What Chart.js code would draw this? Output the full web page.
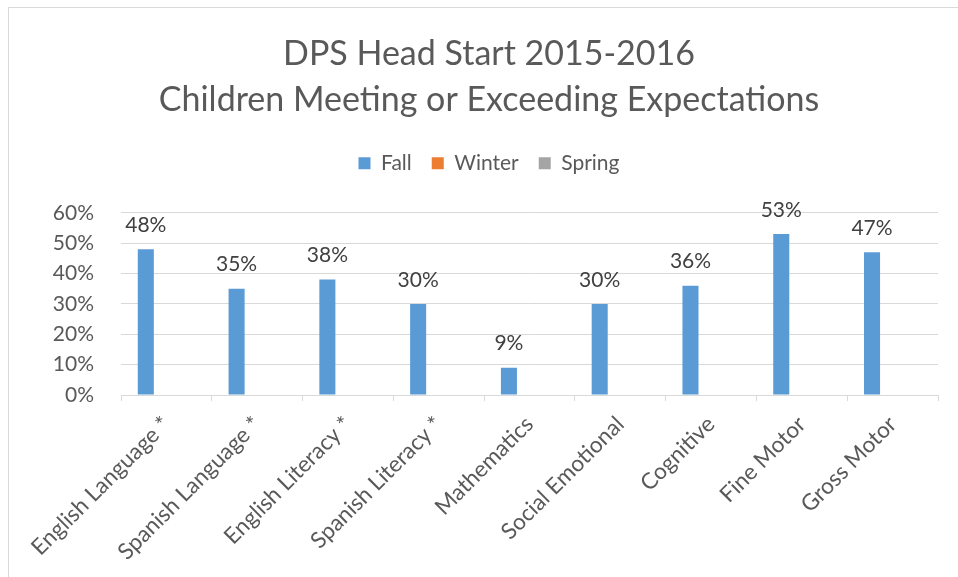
<!DOCTYPE html>
<html>
<head>
<meta charset="utf-8">
<script src="https://cdn.jsdelivr.net/npm/chart.js@4/dist/chart.umd.min.js"></script>
<style>
  html, body { margin: 0; padding: 0; background: #fff; }
  #wrap { position: relative; width: 958px; height: 577px; }
  #frame { position: absolute; left: 8px; top: 7px; width: 1000px; height: 700px; border: 1px solid #d9d9d9; box-sizing: border-box; }
  canvas { position: absolute; left: 0; top: 0; }
</style>
</head>
<body>
<div id="wrap">
  <div id="frame"></div>
  <canvas id="chart" width="958" height="577"></canvas>
</div>
<script>
const categories = ["English Language *", "Spanish Language *", "English Literacy *", "Spanish Literacy *",
  "Mathematics", "Social Emotional", "Cognitive", "Fine Motor", "Gross Motor"];
const fall = [0.48, 0.35, 0.38, 0.30, 0.09, 0.30, 0.36, 0.53, 0.47];
const winter = [null, null, null, null, null, null, null, null, null];
const spring = [null, null, null, null, null, null, null, null, null];

const FONT = "Lato, 'Open Sans', sans-serif";
const GREY = "#595959";

// percent labels above the Fall bars
const barLabels = {
  id: "barLabels",
  afterDatasetsDraw(chart) {
    const ctx = chart.ctx;
    const meta = chart.getDatasetMeta(0);
    ctx.save();
    ctx.font = "21px " + FONT;
    ctx.fillStyle = "#404040";
    ctx.textAlign = "center";
    ctx.textBaseline = "middle";
    meta.data.forEach((bar, i) => {
      ctx.fillText(Math.round(fall[i] * 100) + "%", bar.x, bar.y - 24);
    });
    ctx.restore();
  }
};

// extra room under the legend
const legendGap = {
  id: "legendGap",
  afterInit(chart) {
    const fit = chart.legend.fit;
    chart.legend.fit = function () { fit.call(this); this.height += 29; };
  }
};

new Chart(document.getElementById("chart"), {
  type: "bar",
  data: {
    labels: categories,
    datasets: [
      { label: "Fall", data: fall, backgroundColor: "#5b9bd5" },
      { label: "Winter", data: winter, backgroundColor: "#ed7d31" },
      { label: "Spring", data: spring, backgroundColor: "#a5a5a5" }
    ]
  },
  options: {
    responsive: false,
    animation: false,
    categoryPercentage: 0.68,
    barPercentage: 0.78,
    layout: { padding: { left: 40, right: 20, top: 0, bottom: 0 } },
    plugins: {
      title: {
        display: true,
        text: ["DPS Head Start 2015-2016", "Children Meeting or Exceeding Expectations"],
        color: GREY,
        font: { family: FONT, size: 34, weight: "normal", lineHeight: 1.35 },
        padding: { top: 31, bottom: 10 }
      },
      legend: {
        labels: {
          color: GREY,
          font: { family: FONT, size: 21 },
          boxWidth: 12,
          boxHeight: 12,
          padding: 20
        }
      },
      tooltip: { enabled: false }
    },
    scales: {
      x: {
        grid: { display: true, drawOnChartArea: false, drawTicks: true, tickLength: 6, color: "#d9d9d9" },
        border: { color: "#d9d9d9" },
        ticks: {
          color: GREY,
          font: { family: FONT, size: 22.5 },
          minRotation: 45,
          maxRotation: 45,
          padding: 10
        },
        afterFit(scale) { scale.height = 182; }
      },
      y: {
        min: 0,
        max: 0.6,
        grid: { color: "#d9d9d9", drawTicks: false },
        border: { display: false },
        ticks: {
          stepSize: 0.1,
          color: GREY,
          font: { family: FONT, size: 21 },
          padding: 27,
          callback: v => Math.round(v * 100) + "%"
        },
        afterFit(scale) { scale.width = 81; }
      }
    }
  },
  plugins: [barLabels, legendGap]
});
</script>
</body>
</html>
